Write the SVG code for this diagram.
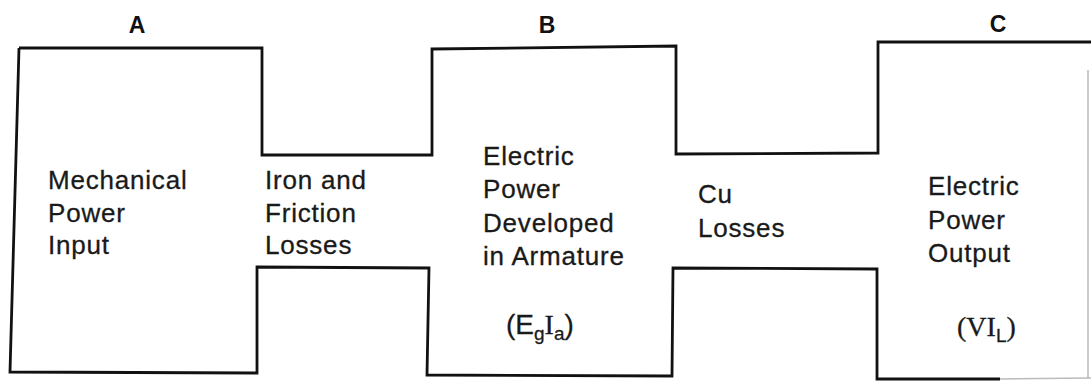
<svg xmlns="http://www.w3.org/2000/svg" width="1091" height="381" viewBox="0 0 1091 381">
<style>
.outline{fill:none;stroke:#111;stroke-width:2.8;stroke-linejoin:miter}
.faint{fill:none;stroke:#bbb;stroke-width:1.5}
.lbl{font-family:"Liberation Sans",Arial,sans-serif;font-size:23px;font-weight:bold;fill:#111;text-anchor:middle}
.t{font-family:"Liberation Sans",Arial,sans-serif;font-size:26px;letter-spacing:0.8px;fill:#1a1a1a;stroke:#1a1a1a;stroke-width:0.3px}
.sub{font-size:19px}
.ser{font-family:"Liberation Serif","Times New Roman",serif}
</style>
<rect width="1091" height="381" fill="#fff"/>
<g id="connectors">
<path class="outline" d="M19 48 L262 48 L262 155 L432 155 L432 49 L676 46 L676 154 L878 153 L878 42 L1091 42"/>
<path class="outline" d="M19 48 L10 372 L257 373 L257 267 L429 268 L427 375 L672 376 L673 268 L877 269 L877 379 L1000 379"/>
<path class="faint" d="M1000 379 L1091 378 M1088 70 L1088 378"/>
</g>
<g id="nodeA">
<text class="lbl" x="137" y="33">A</text>
<text class="t" x="48" y="189">Mechanical</text>
<text class="t" x="48" y="222">Power</text>
<text class="t" x="48" y="254">Input</text>
</g>
<g id="lossIron">
<text class="t" x="265" y="189">Iron and</text>
<text class="t" x="265" y="222">Friction</text>
<text class="t" x="265" y="254">Losses</text>
</g>
<g id="nodeB">
<text class="lbl" x="547" y="33">B</text>
<text class="t" x="483" y="165">Electric</text>
<text class="t" x="483" y="198">Power</text>
<text class="t" x="483" y="232">Developed</text>
<text class="t" x="483" y="265">in Armature</text>
<text class="t" x="506" y="334" style="letter-spacing:0;font-size:28px">(E<tspan class="sub" dy="6">g</tspan><tspan class="ser" dy="-6">I</tspan><tspan class="sub" dy="6">a</tspan><tspan dy="-6">)</tspan></text>
</g>
<g id="lossCu">
<text class="t" x="698" y="203">Cu</text>
<text class="t" x="698" y="237">Losses</text>
</g>
<g id="nodeC">
<text class="lbl" x="998" y="32">C</text>
<text class="t" x="928" y="195">Electric</text>
<text class="t" x="928" y="229">Power</text>
<text class="t" x="928" y="262">Output</text>
<text class="t ser" x="957" y="336" style="letter-spacing:0;font-size:28px">(VI<tspan class="sub" style="font-family:'Liberation Sans',Arial,sans-serif" dy="6">L</tspan><tspan dy="-6">)</tspan></text>
</g>
</svg>
